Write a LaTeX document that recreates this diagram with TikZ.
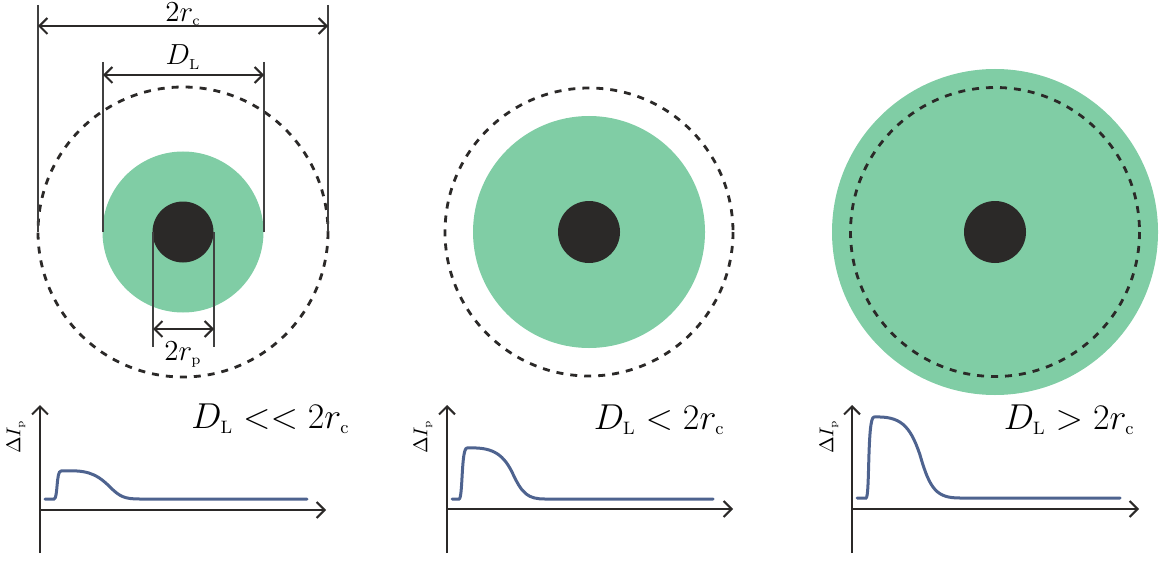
\documentclass[tikz,border=0pt]{standalone}
\usepackage{fix-cm}
\usepackage{amsmath}
\definecolor{spotgreen}{RGB}{128, 205, 165}
\definecolor{coredark}{RGB}{43, 41, 40}
\definecolor{signalblue}{RGB}{78, 99, 143}
\usetikzlibrary{arrows.meta}

\begin{document}
\begin{tikzpicture}[x=0.5pt, y=-0.5pt,
    ring/.style={draw=coredark, line width=1.4pt, dash pattern=on 3.5pt off 3.5pt},
    extline/.style={draw=black!75, line width=0.6pt},
    dimarrow/.style={{Straight Barb[length=4pt, width=8pt]}-{Straight Barb[length=4pt, width=8pt]},
                     draw=coredark, line width=1pt},
    axis/.style={-{Straight Barb[length=4pt, width=8pt]}, draw=coredark, line width=1pt},
    signal/.style={draw=signalblue, line width=1.5pt, line cap=round},
    dimlabel/.style={font=\fontsize{14.5}{16}\selectfont, anchor=base, inner sep=0pt},
    caselabel/.style={font=\fontsize{18}{20}\selectfont, anchor=base east, inner sep=0pt},
    ylabel/.style={font=\fontsize{10}{11}\selectfont, rotate=90, inner sep=0pt}]
    \useasboundingbox (0, 0) rectangle (1159, 561);

    % circles
    \fill[spotgreen] (183, 232) circle[radius=80.5];
    \fill[coredark] (183, 232) circle[radius=30.5];
    \draw[ring] (183, 232) circle[radius=145];

    \fill[spotgreen] (589, 232) circle[radius=116];
    \fill[coredark] (589, 232) circle[radius=31];
    \draw[ring] (589, 232) circle[radius=144];

    \fill[spotgreen] (995, 232) circle[radius=163];
    \fill[coredark] (995, 232) circle[radius=31];
    \draw[ring] (995, 232) circle[radius=144.5];

    % dimensions
    \draw[extline] (38, 5) -- (38, 232);
    \draw[extline] (328, 5) -- (328, 232);
    \draw[extline] (103, 62) -- (103, 232);
    \draw[extline] (264, 62) -- (264, 232);
    \draw[extline] (153, 232) -- (153, 347);
    \draw[extline] (214, 232) -- (214, 347);
    \coordinate (rcleft) at (38, 26);
    \coordinate (rcright) at (328, 26);
    \coordinate (dlleft) at (103, 75);
    \coordinate (dlright) at (264, 75);
    \coordinate (rpleft) at (153, 329);
    \coordinate (rpright) at (214, 329);
    \draw[dimarrow] (rcleft) -- (rcright);
    \draw[dimarrow] (dlleft) -- (dlright);
    \draw[dimarrow] (rpleft) -- (rpright);
    \node[dimlabel] (rclabel) at (183, 21.5) {$2r_{\scriptscriptstyle\mathrm{c}}$};
    \node[dimlabel] (dllabel) at (183, 65) {$D_{\scriptscriptstyle\mathrm{L}}$};
    \node[dimlabel] (rplabel) at (183, 360) {$2r_{\scriptscriptstyle\mathrm{p}}$};

    % signal plots
    \coordinate (oA) at (40, 510);
    \coordinate (oB) at (447, 509);
    \coordinate (oC) at (852, 509);
    \draw[axis] (40, 553) -- (40, 405);
    \draw[axis] (oA) -- (326, 510);
    \draw[axis] (447, 553) -- (447, 405);
    \draw[axis] (oB) -- (733, 509);
    \draw[axis] (852, 553) -- (852, 405);
    \draw[axis] (oC) -- (1139, 509);

    \draw[signal] (45, 499) -- (54, 499) .. controls (58, 499) and (56, 471) .. (61, 471)
        .. controls (85, 470) and (95, 472) .. (110, 487)
        .. controls (120, 497) and (125, 499) .. (140, 499) -- (307, 499);
    \draw[signal] (452, 499) -- (459, 499) .. controls (463, 499) and (461, 448) .. (467, 448)
        .. controls (490, 447) and (502, 452) .. (512, 472)
        .. controls (522, 494) and (528, 499) .. (545, 499) -- (713, 499);
    \draw[signal] (857, 498) -- (866, 498) .. controls (870, 498) and (867, 417) .. (874, 417)
        .. controls (900, 416) and (910, 425) .. (920, 455)
        .. controls (930, 490) and (937, 498) .. (960, 498) -- (1120, 498);

    \node[ylabel] (yA) at (16, 437) {$\Delta I_{\scriptscriptstyle\mathrm{p}}$};
    \node[ylabel] (yB) at (423, 437) {$\Delta I_{\scriptscriptstyle\mathrm{p}}$};
    \node[ylabel] (yC) at (829, 437) {$\Delta I_{\scriptscriptstyle\mathrm{p}}$};

    \node[caselabel] (caseA) at (350, 428) {$D_{\scriptscriptstyle\mathrm{L}} << 2r_{\scriptscriptstyle\mathrm{c}}$};
    \node[caselabel] (caseB) at (725, 429) {$D_{\scriptscriptstyle\mathrm{L}} < 2r_{\scriptscriptstyle\mathrm{c}}$};
    \node[caselabel] (caseC) at (1135, 429) {$D_{\scriptscriptstyle\mathrm{L}} > 2r_{\scriptscriptstyle\mathrm{c}}$};
\end{tikzpicture}
\end{document}
